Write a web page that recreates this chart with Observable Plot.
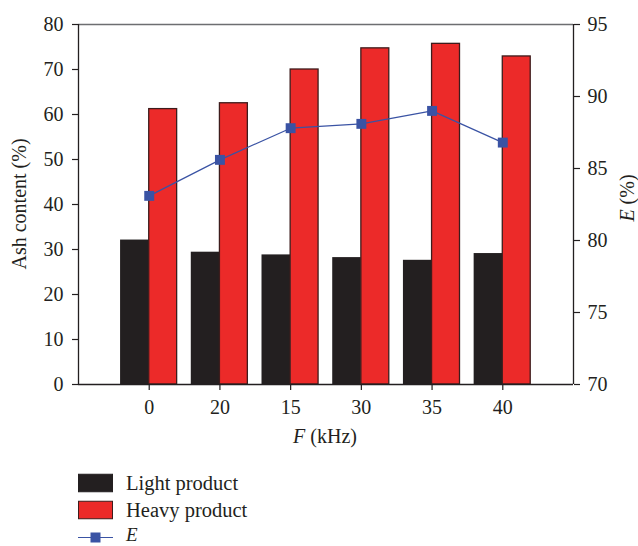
<!DOCTYPE html>
<html>
<head>
<meta charset="utf-8">
<script src="https://cdn.jsdelivr.net/npm/d3@7"></script>
<script src="https://cdn.jsdelivr.net/npm/@observablehq/plot@0.6"></script>
<style>
  html, body { margin: 0; padding: 0; background: #fff; overflow: hidden; }
  #wrap { position: relative; width: 638px; height: 546px; font-family: "Liberation Serif", serif; color: #231f20; }
  #chart svg { display: block; }
  .row { position: absolute; left: 78px; display: flex; align-items: center; height: 16px; font-size: 20.5px; line-height: 16px; }
  .row svg { margin-right: 13px; display: block; overflow: visible; }
</style>
</head>
<body>
<div id="wrap">
  <div id="chart"></div>
</div>
<script>
const categories = ["0", "20", "15", "30", "35", "40"];
const lightAsh = [32.1, 29.4, 28.8, 28.2, 27.6, 29.1];
const heavyAsh = [61.2, 62.5, 70.0, 74.7, 75.7, 72.9];
const efficiency = [83.1, 85.6, 87.8, 88.1, 89.0, 86.8];
const ashTicks = [0, 10, 20, 30, 40, 50, 60, 70, 80];
const eTicks = [70, 75, 80, 85, 90, 95];

const colors = { light: "#231f20", heavy: "#ec2a29", heavyEdge: "#3d1c1c", line: "#3a53a4", text: "#231f20" };

const eMin = 70, eMax = 95, ashMax = 80;
const toLeft = e => (e - eMin) * ashMax / (eMax - eMin);
const fromLeft = v => eMin + v * (eMax - eMin) / ashMax;

const rows = categories.map((c, i) => ({ i, c, light: lightAsh[i], heavy: heavyAsh[i], E: efficiency[i], Ey: toLeft(efficiency[i]) }));

const chart = Plot.plot({
  width: 638,
  height: 450,
  marginLeft: 78,
  marginRight: 65,
  marginTop: 24,
  marginBottom: 66,
  x: { domain: [-1, 6] },
  y: { domain: [0, ashMax] },
  style: { fontFamily: "'Liberation Serif', serif", fontSize: "20px", color: colors.text, background: "white" },
  marks: [
    Plot.rectY(rows, { x1: d => d.i - 0.405, x2: d => d.i, y1: 0, y2: "light", fill: colors.light }),
    Plot.rectY(rows, { x1: d => d.i, x2: d => d.i + 0.395, y1: 0, y2: "heavy", fill: colors.heavy, stroke: colors.heavyEdge, strokeWidth: 1.3 }),
    Plot.line(rows, { x: "i", y: "Ey", stroke: colors.line, strokeWidth: 1.2 }),
    Plot.dot(rows, { x: "i", y: "Ey", symbol: "square", r: 5.6, fill: colors.line, stroke: "none" }),
    Plot.ruleY([ashMax], { stroke: "#6d6e71", strokeWidth: 1.3 }),
    Plot.ruleX([-1], { stroke: colors.text, strokeWidth: 1.3 }),
    Plot.ruleX([6], { stroke: colors.text, strokeWidth: 1.3 }),
    Plot.ruleY([0], { stroke: colors.text, strokeWidth: 1.6 }),
    Plot.axisY(ashTicks, { anchor: "left", tickSize: 6, tickPadding: 9, label: null, strokeWidth: 1.2 }),
    Plot.axisY(eTicks.map(toLeft), { anchor: "right", tickSize: 6, tickPadding: 8, label: null, strokeWidth: 1.2, tickFormat: v => String(Math.round(fromLeft(v))) }),
    Plot.axisX(categories.map((c, i) => i), { anchor: "bottom", tickSize: 6, tickPadding: 9, label: null, strokeWidth: 1.2, tickFormat: i => categories[i] })
  ]
});
document.getElementById("chart").appendChild(chart);

// Axis titles
const svg = d3.select(chart);
svg.append("text").attr("transform", "translate(26,204) rotate(-90)")
  .attr("text-anchor", "middle").attr("font-size", 20).attr("fill", colors.text).text("Ash content (%)");
const t2 = svg.append("text").attr("transform", "translate(634,198) rotate(-90)")
  .attr("text-anchor", "middle").attr("font-size", 20).attr("fill", colors.text);
t2.append("tspan").attr("font-style", "italic").text("E");
t2.append("tspan").text(" (%)");
const t3 = svg.append("text").attr("x", 325).attr("y", 443)
  .attr("text-anchor", "middle").attr("font-size", 20).attr("fill", colors.text);
t3.append("tspan").attr("font-style", "italic").text("F");
t3.append("tspan").text(" (kHz)");

// Legend
const legendItems = [
  { label: "Light product", kind: "rect", fill: colors.light, stroke: colors.light, center: 483 },
  { label: "Heavy product", kind: "rect", fill: colors.heavy, stroke: colors.heavyEdge, center: 509.5 },
  { label: "E", kind: "line", italic: true, center: 535, size: 19 }
];
const wrap = d3.select("#wrap");
legendItems.forEach(it => {
  const row = wrap.append("div").attr("class", "row").style("top", (it.center - 8) + "px");
  const s = row.append("svg").attr("width", 35).attr("height", 16);
  if (it.kind === "rect") {
    s.append("rect").attr("x", 0.5).attr("y", -0.75).attr("width", 34).attr("height", 17.5)
      .attr("fill", it.fill).attr("stroke", it.stroke).attr("stroke-width", 1);
  } else {
    s.append("line").attr("x1", 0).attr("x2", 35).attr("y1", 10.5).attr("y2", 10.5).attr("stroke", colors.line).attr("stroke-width", 1.2);
    s.append("rect").attr("x", 12.5).attr("y", 5.5).attr("width", 10).attr("height", 10).attr("fill", colors.line);
  }
  const span = row.append("span").text(it.label);
  if (it.size) span.style("font-size", it.size + "px");
  if (it.italic) span.style("font-style", "italic");
});
</script>
</body>
</html>
